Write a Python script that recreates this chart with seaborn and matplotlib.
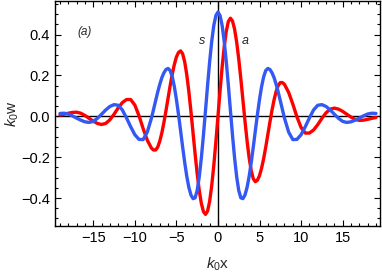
import numpy as np
import pandas as pd
import matplotlib
matplotlib.use("Agg")
import matplotlib.pyplot as plt
import seaborn as sns
from matplotlib.ticker import MultipleLocator

# k0*x sample positions (finer near the centre)
x_vals = [-19.0, -18.5, -18.0, -17.5, -17.0, -16.5, -16.0, -15.5, -15.0, -14.5,
          -14.0, -13.5, -13.0, -12.5, -12.0, -11.5, -11.0, -10.5, -10.0, -9.5,
          -9.0, -8.5,
          -8.0, -7.75, -7.5, -7.25, -7.0, -6.75, -6.5, -6.25, -6.0, -5.75,
          -5.5, -5.25, -5.0, -4.75, -4.5, -4.25, -4.0, -3.75, -3.5, -3.25,
          -3.0, -2.75, -2.5, -2.25, -2.0, -1.75, -1.5, -1.25, -1.0, -0.75,
          -0.5, -0.25, 0.0, 0.25, 0.5, 0.75, 1.0, 1.25, 1.5, 1.75,
          2.0, 2.25, 2.5, 2.75, 3.0, 3.25, 3.5, 3.75, 4.0, 4.25,
          4.5, 4.75, 5.0, 5.25, 5.5, 5.75, 6.0, 6.25, 6.5, 6.75,
          7.0, 7.25, 7.5, 7.75, 8.0,
          8.5, 9.0, 9.5, 10.0, 10.5, 11.0, 11.5, 12.0, 12.5, 13.0,
          13.5, 14.0, 14.5, 15.0, 15.5, 16.0, 16.5, 17.0, 17.5, 18.0,
          18.5, 19.0]

# symmetric mode (s)
w_s = [0.014, 0.015, 0.011, 0.002, -0.009, -0.019, -0.027, -0.030, -0.025, -0.010,
       0.010, 0.031, 0.048, 0.057, 0.054, 0.031, -0.008, -0.051, -0.090, -0.113,
       -0.114, -0.077,
       -0.009, 0.033, 0.076, 0.118, 0.156, 0.189, 0.213, 0.229, 0.234, 0.224,
       0.194, 0.146, 0.083, 0.010, -0.069, -0.150, -0.226, -0.294, -0.348, -0.385,
       -0.403, -0.399, -0.363, -0.296, -0.204, -0.094, 0.028, 0.151, 0.267, 0.367,
       0.445, 0.493, 0.510, 0.493, 0.445, 0.367, 0.267, 0.151, 0.028, -0.094,
       -0.204, -0.296, -0.363, -0.399, -0.403, -0.385, -0.348, -0.294, -0.226, -0.150,
       -0.069, 0.010, 0.083, 0.146, 0.194, 0.224, 0.234, 0.229, 0.213, 0.189,
       0.156, 0.118, 0.076, 0.033, -0.009,
       -0.077, -0.114, -0.113, -0.090, -0.051, -0.008, 0.031, 0.054, 0.057, 0.048,
       0.031, 0.010, -0.010, -0.025, -0.030, -0.027, -0.019, -0.009, 0.002, 0.011,
       0.015, 0.014]

# antisymmetric mode (a)
w_a = [0.006, 0.010, 0.015, 0.019, 0.020, 0.015, 0.004, -0.010, -0.024, -0.035,
       -0.040, -0.035, -0.017, 0.010, 0.041, 0.067, 0.082, 0.082, 0.055, 0.003,
       -0.060, -0.117,
       -0.156, -0.165, -0.165, -0.151, -0.122, -0.081, -0.030, 0.028, 0.089, 0.150,
       0.206, 0.253, 0.290, 0.312, 0.320, 0.306, 0.266, 0.203, 0.120, 0.024,
       -0.080, -0.184, -0.280, -0.363, -0.426, -0.466, -0.480, -0.464, -0.416, -0.339,
       -0.240, -0.124, 0.000, 0.124, 0.240, 0.339, 0.416, 0.464, 0.480, 0.466,
       0.426, 0.363, 0.280, 0.184, 0.080, -0.024, -0.120, -0.203, -0.266, -0.306,
       -0.320, -0.312, -0.290, -0.253, -0.206, -0.150, -0.089, -0.028, 0.030, 0.081,
       0.122, 0.151, 0.165, 0.165, 0.156,
       0.117, 0.060, -0.003, -0.055, -0.082, -0.082, -0.067, -0.041, -0.010, 0.017,
       0.035, 0.040, 0.035, 0.024, 0.010, -0.004, -0.015, -0.020, -0.019, -0.015,
       -0.010, -0.006]

x_ticks = [-15, -10, -5, 0, 5, 10, 15]
y_ticks = [-0.4, -0.2, 0.0, 0.2, 0.4]

sns.set_style("ticks")
plt.rcParams["font.family"] = ["Liberation Sans", "DejaVu Sans"]
plt.rcParams["mathtext.fontset"] = "custom"
plt.rcParams["mathtext.rm"] = "Liberation Sans"
plt.rcParams["mathtext.it"] = "Liberation Sans:italic"

df = pd.DataFrame({"x": x_vals, "s": w_s, "a": w_a})

fig = plt.figure(figsize=(3.82, 2.73), dpi=100)
ax = fig.add_axes([0.144, 0.172, 0.851, 0.825])

ax.axhline(0, color="black", lw=1.0, zorder=1)
ax.axvline(0, color="black", lw=1.0, zorder=1)
sns.lineplot(data=df, x="x", y="a", color="#ff0000", lw=2.4, ax=ax, zorder=3)
sns.lineplot(data=df, x="x", y="s", color="#3358f4", lw=2.4, ax=ax, zorder=4)

ax.set_xlim(-19.6, 19.5)
ax.set_ylim(-0.537, 0.565)
ax.set_xticks(x_ticks)
ax.set_xticklabels(["\u221215", "\u221210", "\u22125", "0", "5", "10", "15"])
ax.set_yticks(y_ticks)
ax.set_yticklabels(["\u22120.4", "\u22120.2", "0.0", "0.2", "0.4"])
ax.xaxis.set_minor_locator(MultipleLocator(1))
ax.yaxis.set_minor_locator(MultipleLocator(0.05))
ax.tick_params(which="both", direction="in", top=True, right=True, colors="black",
               labelsize=10.5, width=0.8)
ax.tick_params(which="major", length=4)
ax.tick_params(which="minor", length=2.2)
for sp in ax.spines.values():
    sp.set_color("black")
    sp.set_linewidth(1.0)

ax.set_xlabel(r"$k_0$x", fontsize=11, labelpad=7.5)
ax.set_ylabel(r"$k_0$w", fontsize=11, labelpad=0.5)

ax.text(-16.0, 0.41, "(a)", fontsize=8.5, style="italic", ha="center", va="center")
ax.text(-1.9, 0.37, "s", fontsize=9, style="italic", ha="center", va="center")
ax.text(3.25, 0.37, "a", fontsize=9, style="italic", ha="center", va="center")

fig.savefig("out.png", dpi=100)
